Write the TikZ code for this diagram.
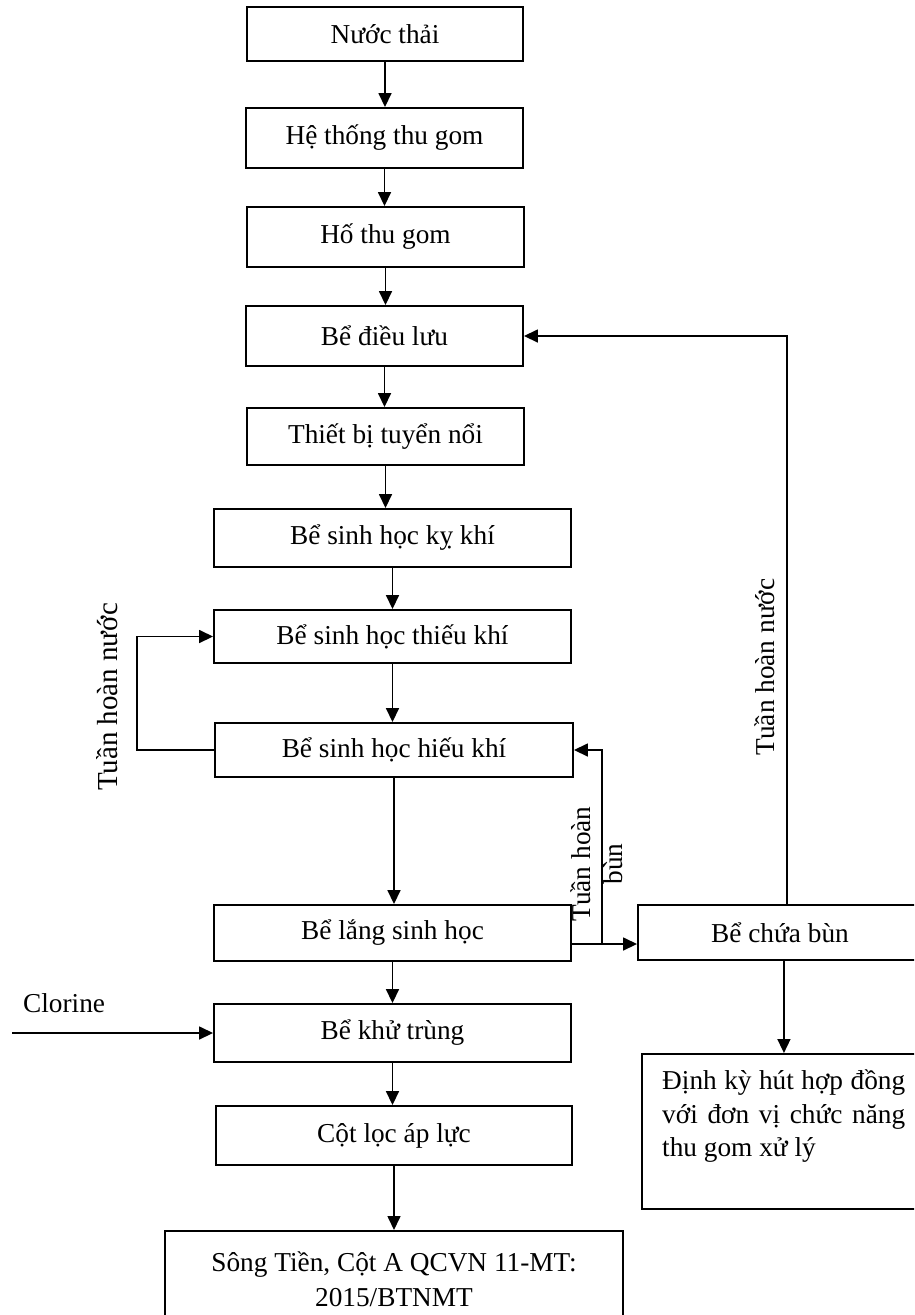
\documentclass[tikz,border=0pt]{standalone}
\usepackage{fontspec}
\setmainfont{Liberation Serif}
\usetikzlibrary{arrows.meta,calc}
\begin{document}
\begin{tikzpicture}[x=1pt,y=-1pt,
  box/.style={draw, line width=1.9pt, inner sep=0pt, font=\fontsize{27.3}{33.5}\selectfont},
  flow/.style={line width=1.6pt, -{Triangle[length=14pt,width=13pt]}},
  lbl/.style={inner sep=0pt, font=\fontsize{27.3}{33.5}\selectfont}]
\useasboundingbox (0,0) rectangle (914,1315);
\clip (0,0) rectangle (914,1315);

% main treatment line
\node[box, minimum width=276pt, minimum height=54pt] (nuoc)   at (385,34)     {Nước thải};
\node[box, minimum width=277pt, minimum height=60pt] (he)     at (384.5,138)  {Hệ thống thu gom};
\node[box, minimum width=277pt, minimum height=60pt] (ho)     at (385.5,237)  {Hố thu gom};
\node[box, minimum width=277pt, minimum height=60pt] (dieuluu) at (384.5,336) {Bể điều lưu};
\node[box, minimum width=277pt, minimum height=57pt] (tuyen)  at (385.5,436.5) {Thiết bị tuyển nổi};
\node[box, minimum width=357pt, minimum height=58pt] (ky)     at (392.5,538)  {Bể sinh học kỵ khí};
\node[box, minimum width=357pt, minimum height=53pt] (thieu)  at (392.5,636.5) {Bể sinh học thiếu khí};
\node[box, minimum width=358pt, minimum height=54pt] (hieu)   at (394,750)    {Bể sinh học hiếu khí};
\node[box, minimum width=357pt, minimum height=56pt] (lang)   at (392.5,933)  {Bể lắng sinh học};
\node[box, minimum width=357pt, minimum height=58pt] (khu)    at (392.5,1033) {Bể khử trùng};
\node[box, minimum width=356pt, minimum height=59pt] (loc)    at (394,1135.5) {Cột lọc áp lực};
\node[box, anchor=north, minimum width=458pt, minimum height=96pt, align=center,
      font=\fontsize{27.3}{35}\selectfont] (song) at (394,1230)
      {Sông Tiền, Cột A QCVN 11-MT:\\2015/BTNMT};

% sludge branch
\node[box, minimum width=284pt, minimum height=55pt] (chuabun) at (780,932.5) {Bể chứa bùn};
\node[box, anchor=north west, minimum width=284pt, minimum height=155pt] (dinhky) at (641,1053) {};
\node[lbl, anchor=north west, align=left] (dinhkytext) at (662,1070)
  {\makebox[243pt][s]{Định kỳ hút hợp đồng}\\\makebox[243pt][s]{với đơn vị chức năng}\\thu gom xử lý};

% labels
\node[lbl, anchor=base, rotate=90, font=\fontsize{29}{33.5}\selectfont] (tnleft) at (117,697) {Tuần hoàn nước};
\node[lbl, anchor=base, rotate=90] (tnright) at (774,667) {Tuần hoàn nước};
\node[lbl, rotate=90, align=center, font=\fontsize{27.3}{32}\selectfont] (tbun) at (596.5,864) {Tuần hoàn\\bùn};
\node[lbl, anchor=base west] (clorine) at (23,1012) {Clorine};

% flow connectors
\foreach \a/\b in {nuoc/he, he/ho, ho/dieuluu, dieuluu/tuyen, tuyen/ky, ky/thieu,
                   thieu/hieu, hieu/lang, lang/khu, khu/loc, loc/song}
  \draw[flow] (\a.south) -- (\a.south |- \b.north);

% water recirculation to the anoxic tank
\draw[flow] (hieu.west) -- ++(-77,0) |- (thieu.west);

% sludge recirculation and sludge line
\coordinate (split) at (602,944);
\draw[flow] (lang.east |- split) -- (chuabun.west |- split);
\draw[flow] (split) |- (hieu.east);
\draw[flow] ($(chuabun.north)+(7,0)$) |- (dieuluu.east);
\draw[flow] (chuabun.south -| dinhky.north) -- (dinhky.north);

% chlorine dosing
\coordinate (cl) at (12,1033);
\draw[flow] (cl) -- (khu.west);
\end{tikzpicture}
\end{document}
